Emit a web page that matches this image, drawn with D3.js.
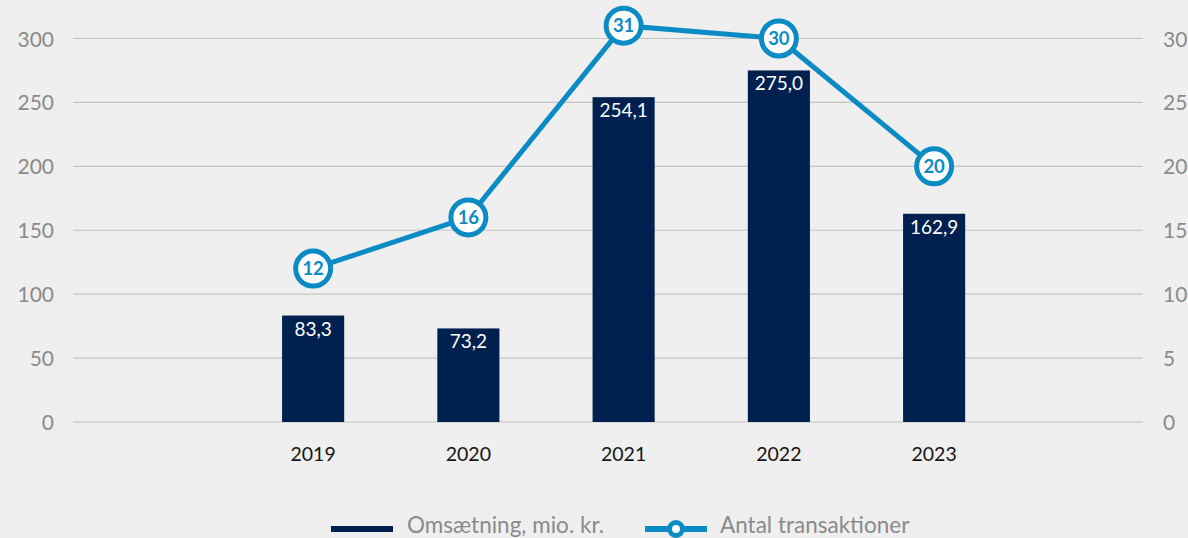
<!DOCTYPE html>
<html><head><meta charset="utf-8">
<script src="https://cdn.jsdelivr.net/npm/d3@7"></script>
<style>body{margin:0;background:#efefef;}svg{display:block;font-family:Lato,"Noto Sans",sans-serif;}</style>
</head><body><svg id="c" width="1188" height="538"></svg>
<script>
const years = ["2019","2020","2021","2022","2023"];
const revenue = [83.3, 73.2, 254.1, 275.0, 162.9];
const deals = [12, 16, 31, 30, 20];
const leftTicks = [0,50,100,150,200,250,300];
const rightTicks = [0,5,10,15,20,25,30];
const seriesNames = ["Omsætning, mio. kr.", "Antal transaktioner"];

const svg = d3.select("#c");
const x0 = 73, x1 = 1143;
const x = d3.scaleBand().domain(years).range([235.5, 1011.75]).paddingInner(0.6).paddingOuter(0.3);
const yL = d3.scaleLinear().domain([0,300]).range([422, 38.5]);
const yR = d3.scaleLinear().domain([0,30]).range([422, 38.5]);
const fmt = v => d3.format(".1f")(v).replace(".", ",");
const barColor = "#00214f", lineColor = "#0a8bc4", tickColor = "#8a8a8a";

// grid
svg.append("g").selectAll("line").data(leftTicks).join("line")
  .attr("x1", x0).attr("x2", x1).attr("y1", d=>yL(d)).attr("y2", d=>yL(d))
  .attr("stroke", "#c4c4c4").attr("stroke-width", 1.2);

// left axis
const gl = svg.append("g").attr("transform","translate(54,0)")
  .call(d3.axisLeft(yL).tickValues(leftTicks).tickSize(0).tickPadding(0));
gl.select(".domain").remove();
gl.selectAll("text").attr("fill",tickColor).attr("font-size",21).attr("font-family","Lato").attr("dy","0.36em");

const gr = svg.append("g").attr("transform","translate(1163,0)")
  .call(d3.axisRight(yR).tickValues(rightTicks).tickSize(0).tickPadding(0));
gr.select(".domain").remove();
gr.selectAll("text").attr("fill",tickColor).attr("font-size",21).attr("font-family","Lato").attr("dy","0.36em");

// x axis
const gx = svg.append("g").attr("transform","translate(0,461)")
  .call(d3.axisBottom(x).tickSize(0).tickPadding(0));
gx.select(".domain").remove();
gx.selectAll("text").attr("fill","#151515").attr("font-size",19.5).attr("font-family","Lato").attr("dy","0");

// bars
const data = years.map((y,i)=>({y, r: revenue[i], d: deals[i]}));
svg.append("g").selectAll("rect").data(data).join("rect")
  .attr("x", d=>x(d.y)).attr("width", x.bandwidth())
  .attr("y", d=>yL(d.r)).attr("height", d=>yL(0)-yL(d.r)).attr("fill", barColor);
svg.append("g").selectAll("text").data(data).join("text")
  .attr("x", d=>x(d.y)+x.bandwidth()/2).attr("y", d=>yL(d.r)+20)
  .attr("text-anchor","middle").attr("fill","#fff").attr("font-size",19).text(d=>fmt(d.r));

// line
const cx = d => x(d.y)+x.bandwidth()/2;
svg.append("path").datum(data)
  .attr("d", d3.line().x(cx).y(d=>yR(d.d)))
  .attr("fill","none").attr("stroke", lineColor).attr("stroke-width",5);
const pts = svg.append("g").selectAll("g").data(data).join("g")
  .attr("transform", d=>`translate(${cx(d)},${yR(d.d)})`);
pts.append("circle").attr("r",17.5).attr("fill","#fff").attr("stroke",lineColor).attr("stroke-width",5);
pts.append("text").attr("text-anchor","middle").attr("dy","0.36em")
  .attr("fill",lineColor).attr("font-size",18.5).attr("font-weight","bold").text(d=>d.d);

// legend
const lg = svg.append("g");
lg.append("line").attr("x1",331).attr("x2",393).attr("y1",529).attr("y2",529).attr("stroke",barColor).attr("stroke-width",6);
lg.append("text").attr("x",407).attr("y",533).attr("fill",tickColor).attr("font-size",22.5).text(seriesNames[0]);
lg.append("line").attr("x1",645).attr("x2",707).attr("y1",529).attr("y2",529).attr("stroke",lineColor).attr("stroke-width",6);
lg.append("circle").attr("cx",676).attr("cy",529).attr("r",6.5).attr("fill","#fff").attr("stroke",lineColor).attr("stroke-width",5);
lg.append("text").attr("x",720).attr("y",533).attr("fill",tickColor).attr("font-size",22.5).text(seriesNames[1]);
</script></body></html>
